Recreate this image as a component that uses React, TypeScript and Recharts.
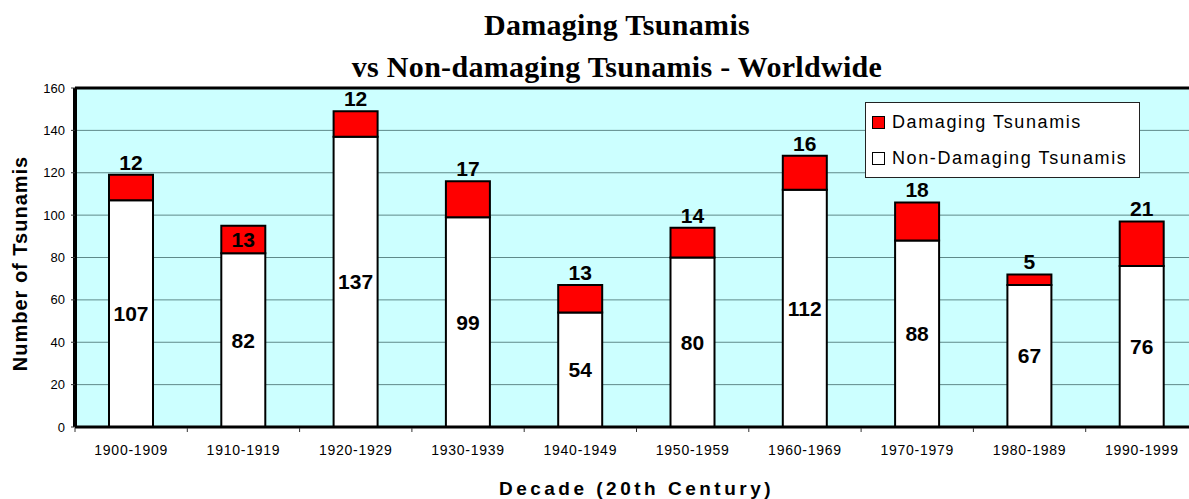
import {
  BarChart, Bar, XAxis, YAxis, CartesianGrid, Legend, LabelList, Label, ReferenceLine,
} from 'recharts';

const decades = [
  '1900-1909', '1910-1919', '1920-1929', '1930-1939', '1940-1949',
  '1950-1959', '1960-1969', '1970-1979', '1980-1989', '1990-1999',
];
const nonDamaging = [107, 82, 137, 99, 54, 80, 112, 88, 67, 76];
const damaging = [12, 13, 12, 17, 13, 14, 16, 18, 5, 21];
const yTicks = [0, 20, 40, 60, 80, 100, 120, 140, 160];

// the 1910s label sits inside the red block in the original
const labelInside = ['1910-1919'];

const rows = decades.map((decade, i) => ({
  decade,
  nonDamaging: nonDamaging[i],
  damaging: damaging[i],
}));

const SANS = '"Liberation Sans", Arial, sans-serif';
const BAND = (1198 - 75) / decades.length;

function DecadeTick({ x, y, payload }: any) {
  return (
    <g>
      <line x1={x - BAND / 2} x2={x - BAND / 2} y1={y + 1} y2={y + 5} stroke="#333" />
      <text x={x} y={y + 28} textAnchor="middle" fontFamily={SANS} fontSize={14}
        letterSpacing={0.75} fill="#000">
        {payload.value}
      </text>
    </g>
  );
}

function DamagingLabel({ x, y, width, height, value, index }: any) {
  const inside = labelInside.includes(decades[index]);
  return (
    <text
      x={x + width / 2}
      y={inside ? y + height / 2 : y - 5}
      dominantBaseline={inside ? 'central' : 'auto'}
      textAnchor="middle" fontFamily={SANS} fontSize={21} fontWeight="bold" fill="#000"
    >
      {value}
    </text>
  );
}

function LegendBox() {
  const item = (fill: string, text: string) => (
    <div style={{ display: 'flex', alignItems: 'center', height: 36 }}>
      <span style={{
        display: 'inline-block', width: 11, height: 11, background: fill,
        border: '1.5px solid #000', marginRight: 7,
      }} />
      <span style={{ fontFamily: SANS, fontSize: 18, letterSpacing: 1.6, color: '#000' }}>{text}</span>
    </div>
  );
  return (
    <div style={{
      width: 267, height: 73, border: '1px solid #222', background: '#fff',
      padding: '1px 0 0 6px', boxSizing: 'content-box',
    }}>
      {item('#FF0000', 'Damaging Tsunamis')}
      {item('#FFFFFF', 'Non-Damaging Tsunamis')}
    </div>
  );
}

export default function App() {
  return (
    <div style={{
      position: 'absolute', left: 0, top: 0, width: 1189, height: 499,
      overflow: 'hidden', background: '#fff',
    }}>
      <div style={{
        position: 'absolute', left: 317, top: 4, width: 600, textAlign: 'center',
        fontFamily: '"Liberation Serif", "Times New Roman", serif', fontWeight: 'bold',
        fontSize: 30, lineHeight: '42px', letterSpacing: 0.3, color: '#000',
      }}>
        Damaging Tsunamis<br />vs Non-damaging Tsunamis - Worldwide
      </div>
      <BarChart
        width={1210}
        height={499}
        data={rows}
        margin={{ top: 88, right: 12, bottom: 0, left: 0 }}
        barSize={44}
      >
        <CartesianGrid vertical={false} fill="#CCFFFF" stroke="#5f8a8a" />
        <XAxis
          dataKey="decade"
          height={72}
          interval={0}
          tickLine={false}
          tickSize={0}
          tickMargin={0}
          axisLine={{ stroke: '#000', strokeWidth: 3 }}
          tick={<DecadeTick />}
        >
          <Label
            content={({ viewBox }: any) => (
              <text x={viewBox.x + viewBox.width / 2} y={viewBox.y + 68} textAnchor="middle"
                fontFamily={SANS} fontSize={19} fontWeight="bold" letterSpacing={3.5} fill="#000">
                Decade (20th Century)
              </text>
            )}
          />
        </XAxis>
        <YAxis
          width={75}
          domain={[0, 160]}
          ticks={yTicks}
          interval={0}
          tickSize={4}
          tickMargin={6}
          tickLine={{ stroke: '#333' }}
          axisLine={{ stroke: '#000', strokeWidth: 4 }}
          tick={{ fontSize: 13, fill: '#000', fontFamily: SANS }}
        >
          <Label
            content={({ viewBox }: any) => {
              const cx = 20;
              const cy = viewBox.y + viewBox.height / 2 + 6;
              return (
                <text x={cx} y={cy} transform={`rotate(-90 ${cx} ${cy})`} textAnchor="middle"
                  dominantBaseline="central" fontFamily={SANS} fontSize={20} fontWeight="bold"
                  letterSpacing={1} fill="#000">
                  Number of Tsunamis
                </text>
              );
            }}
          />
        </YAxis>
        <ReferenceLine y={160} stroke="#000" strokeWidth={3} />
        <Bar dataKey="nonDamaging" name="Non-Damaging Tsunamis" stackId="a" fill="#FFFFFF"
          stroke="#000" strokeWidth={2} isAnimationActive={false}>
          <LabelList dataKey="nonDamaging" position="center" fill="#000" fontSize={21}
            fontWeight="bold" fontFamily={SANS} />
        </Bar>
        <Bar dataKey="damaging" name="Damaging Tsunamis" stackId="a" fill="#FF0000"
          stroke="#000" strokeWidth={2} isAnimationActive={false}>
          <LabelList dataKey="damaging" content={<DamagingLabel />} />
        </Bar>
        <Legend
          layout="horizontal"
          verticalAlign="middle"
          content={<LegendBox />}
          wrapperStyle={{ position: 'absolute', left: 865, top: 102, width: 280, height: 76 }}
        />
      </BarChart>
    </div>
  );
}
